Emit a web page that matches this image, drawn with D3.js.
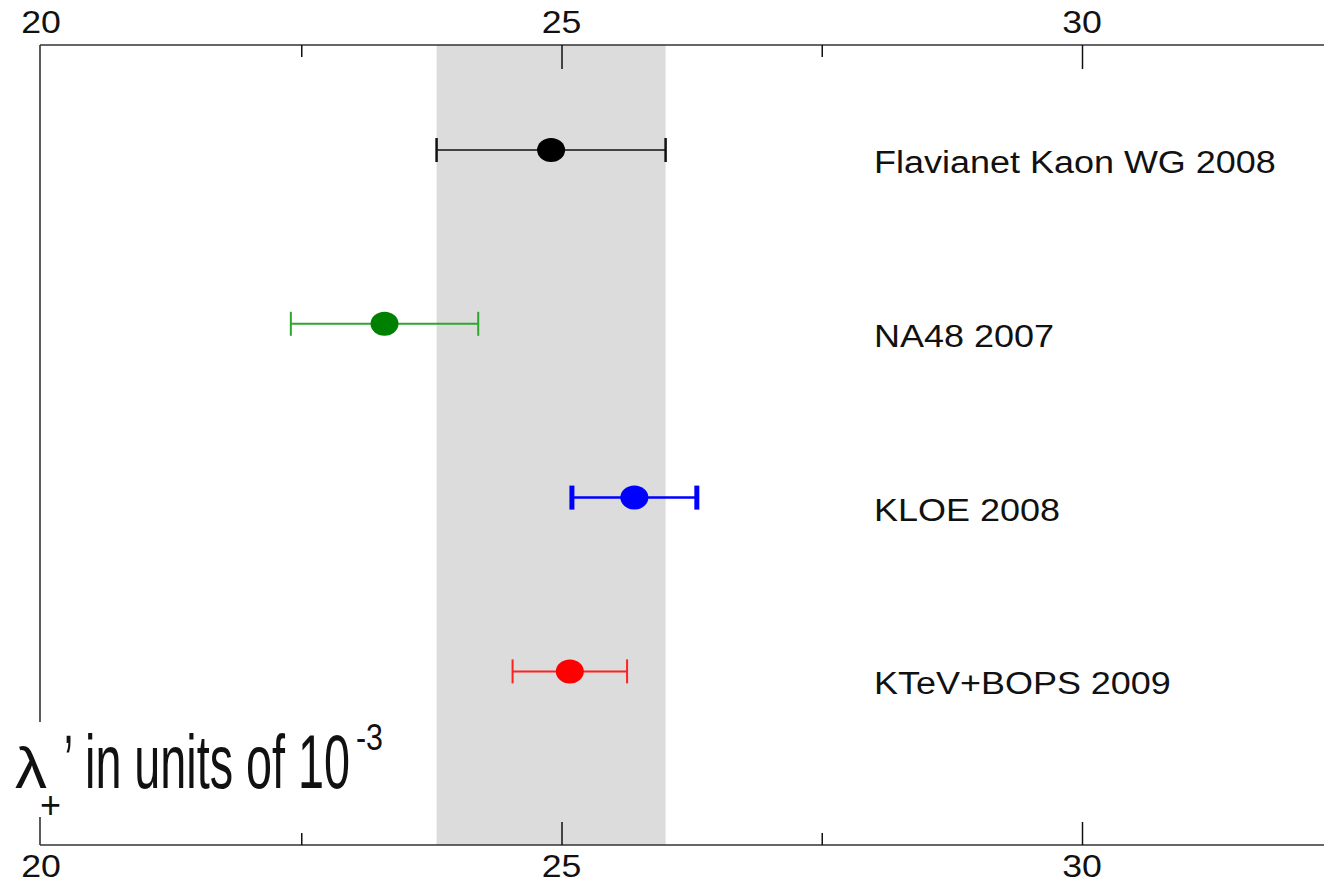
<!DOCTYPE html>
<html><head><meta charset="utf-8">
<script src="https://cdn.jsdelivr.net/npm/d3@7"></script>
<style>body{margin:0;background:#fff}svg{display:block}</style>
</head><body>
<svg id="c" width="1324" height="883"></svg>
<script>
// ---- data ----
const experiments = ["Flavianet Kaon WG 2008", "NA48 2007", "KLOE 2008", "KTeV+BOPS 2009"];
const centralValues = [24.9, 23.3, 25.7, 25.08];
const errors = [1.1, 0.9, 0.6, 0.55];
const majorTicks = [20, 25, 30];
const minorTicks = [22.5, 27.5, 32.5];
const bandRange = [23.8, 26.0];

// ---- styles ----
const markerColors = ["#000000", "#008000", "#0000ff", "#ff0000"];
const lineColors = ["#111111", "#2ea62e", "#0000ff", "#ff2020"];
const lineWidths = [1.5, 2, 2.5, 2];
const capWidths = [2.5, 2, 5, 2];

(function () {
const W = 1324, H = 883;
const svg = d3.select("#c");
const x = d3.scaleLinear().domain([20, 30]).range([41, 1082]);
const y = d3.scalePoint().domain(experiments).range([150, 671.4]);
const yTop = 45, yBot = 845;

// band
svg.append("rect")
  .attr("x", x(bandRange[0])).attr("y", yTop)
  .attr("width", x(bandRange[1]) - x(bandRange[0]))
  .attr("height", yBot - yTop)
  .attr("fill", "#dcdcdc");

// frame
const axisColor = "#333";
svg.append("line").attr("x1", 40).attr("x2", W).attr("y1", yTop).attr("y2", yTop)
  .attr("stroke", axisColor).attr("stroke-width", 1.6);
svg.append("line").attr("x1", 40).attr("x2", W).attr("y1", yBot).attr("y2", yBot)
  .attr("stroke", axisColor).attr("stroke-width", 1.6);
svg.append("line").attr("x1", 40).attr("x2", 40).attr("y1", yTop).attr("y2", yBot)
  .attr("stroke", axisColor).attr("stroke-width", 1.6);

// ticks (inward) using axes
const topAxis = d3.axisBottom(x).tickValues(majorTicks.slice(1)).tickSize(24).tickFormat("");
const gTop = svg.append("g").attr("transform", `translate(0,${yTop})`).call(topAxis);
const topMinor = d3.axisBottom(x).tickValues(minorTicks).tickSize(12).tickFormat("");
const gTopM = svg.append("g").attr("transform", `translate(0,${yTop})`).call(topMinor);
const botAxis = d3.axisTop(x).tickValues(majorTicks.slice(1)).tickSize(23).tickFormat("");
const gBot = svg.append("g").attr("transform", `translate(0,${yBot})`).call(botAxis);
const botMinor = d3.axisTop(x).tickValues(minorTicks).tickSize(12).tickFormat("");
const gBotM = svg.append("g").attr("transform", `translate(0,${yBot})`).call(botMinor);
[gTop, gTopM, gBot, gBotM].forEach(g => {
  g.select(".domain").remove();
  g.selectAll(".tick line").attr("stroke", "#111").attr("stroke-width", 1.5);
});

// tick labels
const font = "'Liberation Sans', Arial, sans-serif";
function stretchText(sel, f) {
  sel.each(function () {
    const len = this.getComputedTextLength();
    d3.select(this).attr("textLength", len * f).attr("lengthAdjust", "spacingAndGlyphs");
  });
}
[33, 877].forEach(yy => {
  svg.append("g").selectAll("text").data(majorTicks).join("text")
    .attr("x", d => x(d)).attr("y", yy)
    .attr("text-anchor", "middle")
    .attr("font-family", font).attr("font-size", 31).attr("fill", "#111")
    .text(d => d)
    .call(stretchText, 1.15);
});

// error bars
const rows = experiments.map((e, i) => ({ name: e, v: centralValues[i], err: errors[i], i }));
const capH = 12;
const gE = svg.append("g");
rows.forEach(r => {
  const cy = y(r.name);
  gE.append("line").attr("x1", x(r.v - r.err)).attr("x2", x(r.v + r.err))
    .attr("y1", cy).attr("y2", cy)
    .attr("stroke", lineColors[r.i]).attr("stroke-width", lineWidths[r.i]);
  [r.v - r.err, r.v + r.err].forEach(xx => {
    gE.append("line").attr("x1", x(xx)).attr("x2", x(xx))
      .attr("y1", cy - capH).attr("y2", cy + capH)
      .attr("stroke", lineColors[r.i]).attr("stroke-width", capWidths[r.i]);
  });
  gE.append("ellipse").attr("cx", x(r.v)).attr("cy", cy).attr("rx", 14).attr("ry", 12)
    .attr("fill", markerColors[r.i]);
});

// labels
svg.append("g").selectAll("text").data(rows).join("text")
  .attr("x", 874).attr("y", d => y(d.name) + 23)
  .attr("font-family", font).attr("font-size", 31).attr("fill", "#111")
  .text(d => d.name)
  .call(stretchText, 1.16);

// axis title with white background (single text element with positioned tspans)
svg.append("rect").attr("x", 0).attr("y", 722).attr("width", 395).attr("height", 95).attr("fill", "#fff");
const nfont = "'Liberation Sans Narrow', 'Liberation Sans', Arial, sans-serif";
const tt = svg.append("text").attr("fill", "#111").attr("font-family", nfont);
const parts = [
  { t: "λ", x: 15, y: 788, fs: 58, len: 32 },
  { t: "+", x: 40, y: 818, fs: 38, len: 21 },
  { t: "’", x: 64, y: 788, fs: 76, len: 9 },
  { t: "in units of 10", x: 85, y: 788, fs: 76, len: 265 },
  { t: "-3", x: 356, y: 750, fs: 36, len: 27 }
];
parts.forEach(p => {
  tt.append("tspan").attr("x", p.x).attr("y", p.y).attr("font-size", p.fs)
    .attr("textLength", p.len).attr("lengthAdjust", "spacingAndGlyphs").text(p.t);
});
})();
</script>
</body></html>
